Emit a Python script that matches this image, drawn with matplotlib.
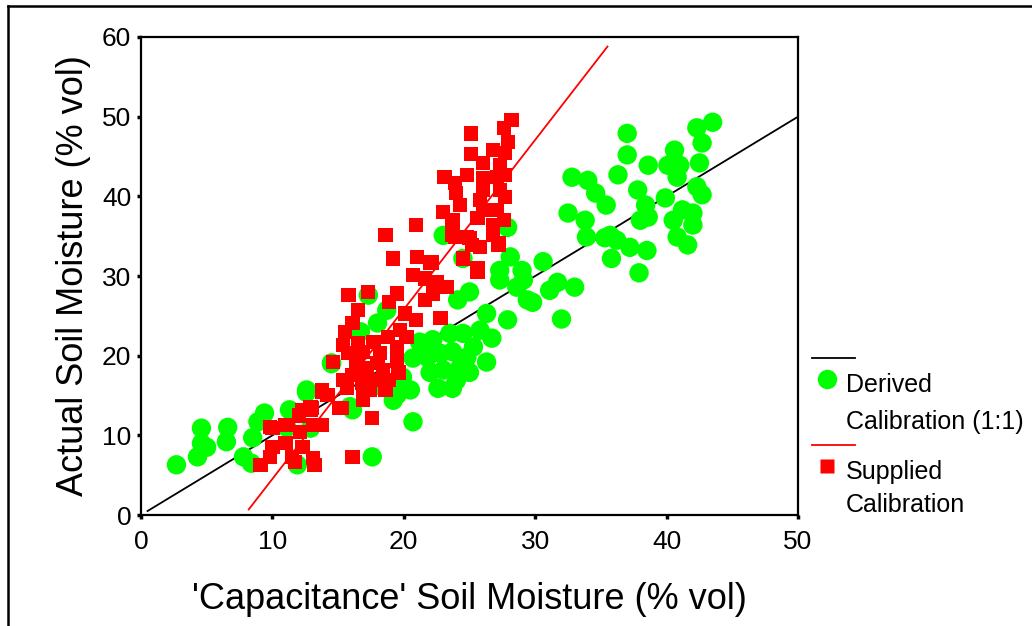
import numpy as np
import matplotlib
matplotlib.use("Agg")
import matplotlib.pyplot as plt
from matplotlib.lines import Line2D

plt.rcParams['font.family'] = ['Liberation Sans', 'DejaVu Sans']

# Derived calibration (1:1) points - capacitance vs actual
derived_x = [2.7, 4.3, 4.6, 4.6, 5.0, 6.6, 6.5, 7.8, 8.4, 8.5, 8.9, 9.4, 11.3, 11.9, 12.6,
             12.9, 14.5, 11.1, 17.6, 20.7, 16.1, 19.2,
             17.3, 18.7, 18.0, 16.7, 21.2, 22.2, 23.5, 24.5, 25.8, 26.7, 25.3, 23.7, 22.8,
             21.8, 20.7, 24.8, 24.3, 23.0, 22.0, 25.0, 24.0, 22.6, 23.7, 20.5, 19.5, 14.5,
             12.6, 15.9, 18.4, 19.9, 26.3,
             23.0, 27.9, 24.5, 28.1, 27.3, 27.3, 28.6, 25.0, 24.1, 26.3, 27.9, 29.4,
             37.0, 37.0, 36.3, 32.8, 34.0, 34.6, 35.4, 32.5, 33.8, 33.9, 35.3, 36.2, 37.2,
             38.5, 35.8, 37.9, 30.6, 29.0, 29.1, 31.1, 31.7, 33.0, 29.8, 32.0, 37.8, 38.6,
             38.4, 38.6, 38.0, 39.9, 40.6, 40.1, 41.0, 40.8, 42.3, 43.5, 42.7, 42.5, 42.3,
             42.7, 40.5, 41.2, 42.0, 42.0, 40.8, 41.6, 35.7]
derived_y = [6.3, 7.3, 10.9, 9.0, 8.5, 11.0, 9.2, 7.3, 6.5, 9.7, 11.7, 12.8, 13.2, 6.3, 15.4,
             10.9, 19.0, 11.0, 7.3, 11.7, 13.2, 14.4,
             27.6, 25.7, 24.1, 23.0, 21.7, 22.0, 22.8, 22.8, 23.2, 22.2, 21.1, 20.5, 20.3,
             19.8, 19.7, 19.8, 18.6, 18.2, 17.9, 17.9, 16.9, 15.9, 15.9, 15.7, 15.1, 19.1,
             15.7, 13.6, 16.1, 17.3, 19.2,
             35.1, 36.1, 32.2, 32.4, 30.7, 29.5, 28.6, 28.0, 27.0, 25.3, 24.5, 27.0,
             47.9, 45.2, 42.7, 42.4, 42.0, 40.4, 38.9, 37.9, 37.0, 34.9, 34.8, 34.5, 33.6,
             33.2, 32.2, 30.4, 31.8, 30.7, 29.5, 28.2, 29.2, 28.6, 26.7, 24.6, 40.8, 43.9,
             38.9, 37.4, 37.0, 39.8, 45.8, 43.9, 43.9, 42.4, 48.6, 49.3, 46.7, 44.2, 41.2,
             40.2, 37.0, 38.3, 37.9, 36.4, 34.9, 33.9, 35.1]

# Supplied calibration points
supplied_x = [28.2, 27.6, 25.1, 27.9, 25.1, 26.8, 27.7, 26.0, 27.3, 24.8, 23.1, 26.0, 27.1,
              27.7, 23.9, 26.0, 27.3, 24.0, 25.8, 27.7, 24.3, 23.0, 26.0, 27.1, 23.7, 25.6,
              27.6, 20.9, 26.8, 23.7, 24.8, 25.8, 26.8, 27.2, 25.2, 24.5, 21.0, 22.1, 25.6,
              18.6, 23.7, 23.9, 25.0, 25.8, 27.2, 19.2, 21.0, 22.0, 24.5, 25.6, 20.7, 21.6,
              22.5, 23.3, 22.2, 21.6, 15.8, 17.3, 19.5, 18.9, 22.8, 20.9, 20.1, 16.5, 16.1,
              15.5, 19.7, 20.2, 15.4, 16.5, 17.7, 18.8, 19.5, 15.8, 16.9, 18.2, 14.6, 16.4,
              18.0, 19.5, 17.2, 18.4, 19.6, 15.4, 16.1, 16.8, 17.8, 18.9, 15.7, 17.4, 18.6,
              13.8, 14.2, 16.9, 12.9, 15.3, 17.6,
              9.1, 10.0, 11.0, 9.8, 10.0, 11.0, 11.5, 11.7, 12.3, 12.1, 12.0, 12.9, 13.1,
              13.8, 13.1, 13.2, 15.1, 16.1, 16.9, 9.8, 11.2, 12.3, 13.0, 13.8]
supplied_y = [49.6, 48.6, 47.9, 46.8, 45.3, 45.8, 45.4, 44.2, 43.9, 42.7, 42.4, 42.3, 42.4,
              42.7, 41.7, 40.8, 40.8, 40.4, 39.5, 39.9, 38.9, 38.0, 38.3, 38.3, 37.0, 37.3,
              37.0, 36.4, 36.4, 35.1, 34.9, 33.6, 35.1, 33.9, 33.9, 32.2, 32.4, 31.7, 31.0,
              35.1, 36.8, 34.9, 34.8, 33.6, 34.1, 32.2, 32.4, 31.7, 32.2, 30.5, 30.1, 29.7,
              29.2, 28.6, 27.8, 27.0, 27.6, 28.0, 27.8, 26.7, 24.7, 24.5, 25.3, 25.7, 24.1,
              23.0, 23.2, 22.3, 21.3, 21.6, 21.7, 22.3, 21.1, 20.3, 20.5, 20.3, 19.2, 19.4,
              19.1, 19.4, 18.4, 18.2, 17.9, 16.9, 17.6, 16.6, 16.9, 16.9, 15.9, 15.7, 15.7,
              15.7, 15.1, 14.8, 13.6, 13.4, 12.2,
              6.3, 10.9, 11.3, 7.3, 8.5, 9.0, 7.3, 6.7, 8.5, 10.4, 12.5, 13.2, 11.3,
              11.3, 7.2, 6.3, 13.4, 7.3, 14.4, 11.0, 11.3, 13.2, 13.4, 15.4]

# calibration lines (end points in data units)
derived_line_x = [0.5, 50]
derived_line_y = [0.5, 50]
supplied_line_x = [8.2, 35.5]
supplied_line_y = [0.7, 58.8]

fig = plt.figure(figsize=(10.32, 6.26), dpi=100)
ax = fig.add_axes([0.1366, 0.1773, 0.6367, 0.7636])

ax.plot(derived_line_x, derived_line_y, color='black', lw=1.3, zorder=2)
ax.plot(supplied_line_x, supplied_line_y, color='#ff0000', lw=1.3, zorder=2)
ax.scatter(derived_x, derived_y, s=195, c='#00ff00', marker='o', edgecolors='none', zorder=3)
ax.scatter(supplied_x, supplied_y, s=105, c='#ff0000', marker='s', edgecolors='none', zorder=4)

ax.set_xlim(0, 50)
ax.set_ylim(0, 60)
ax.set_xticks([0, 10, 20, 30, 40, 50])
ax.set_yticks([0, 10, 20, 30, 40, 50, 60])
for sp in ax.spines.values():
    sp.set_linewidth(1.6)
ax.tick_params(direction='out', length=3, width=2.5, labelsize=19, pad=4)
ax.tick_params(axis='x', pad=8)

ax.set_xlabel("'Capacitance' Soil Moisture (% vol)", fontsize=26, labelpad=20)
ax.set_ylabel("Actual Soil Moisture (% vol)", fontsize=26, labelpad=8)

# legend drawn on the figure, outside the axes
W, H = 1032, 626
def fx(p): return p / W
def fy(p): return 1 - p / H

fig.add_artist(Line2D([fx(812), fx(855)], [fy(358), fy(358)], color='black', lw=1.3))
fig.add_artist(Line2D([fx(827)], [fy(379)], marker='o', ms=14, color='#00ff00', mec='none'))
fig.text(fx(846), fy(385), "Derived", fontsize=18, va='center', ha='left')
fig.text(fx(846), fy(422), "Calibration (1:1)", fontsize=18, va='center', ha='left')
fig.add_artist(Line2D([fx(812), fx(855)], [fy(445), fy(445)], color='#ff0000', lw=1.3))
fig.add_artist(Line2D([fx(827)], [fy(466)], marker='s', ms=10, color='#ff0000', mec='none'))
fig.text(fx(846), fy(472), "Supplied", fontsize=18, va='center', ha='left')
fig.text(fx(846), fy(505), "Calibration", fontsize=18, va='center', ha='left')

# outer frame lines (top and left only)
fig.add_artist(Line2D([fx(8), 1], [fy(6), fy(6)], color='black', lw=1.8))
fig.add_artist(Line2D([fx(8), fx(8)], [fy(6), 0], color='black', lw=1.8))

fig.savefig('out.png', dpi=100)
